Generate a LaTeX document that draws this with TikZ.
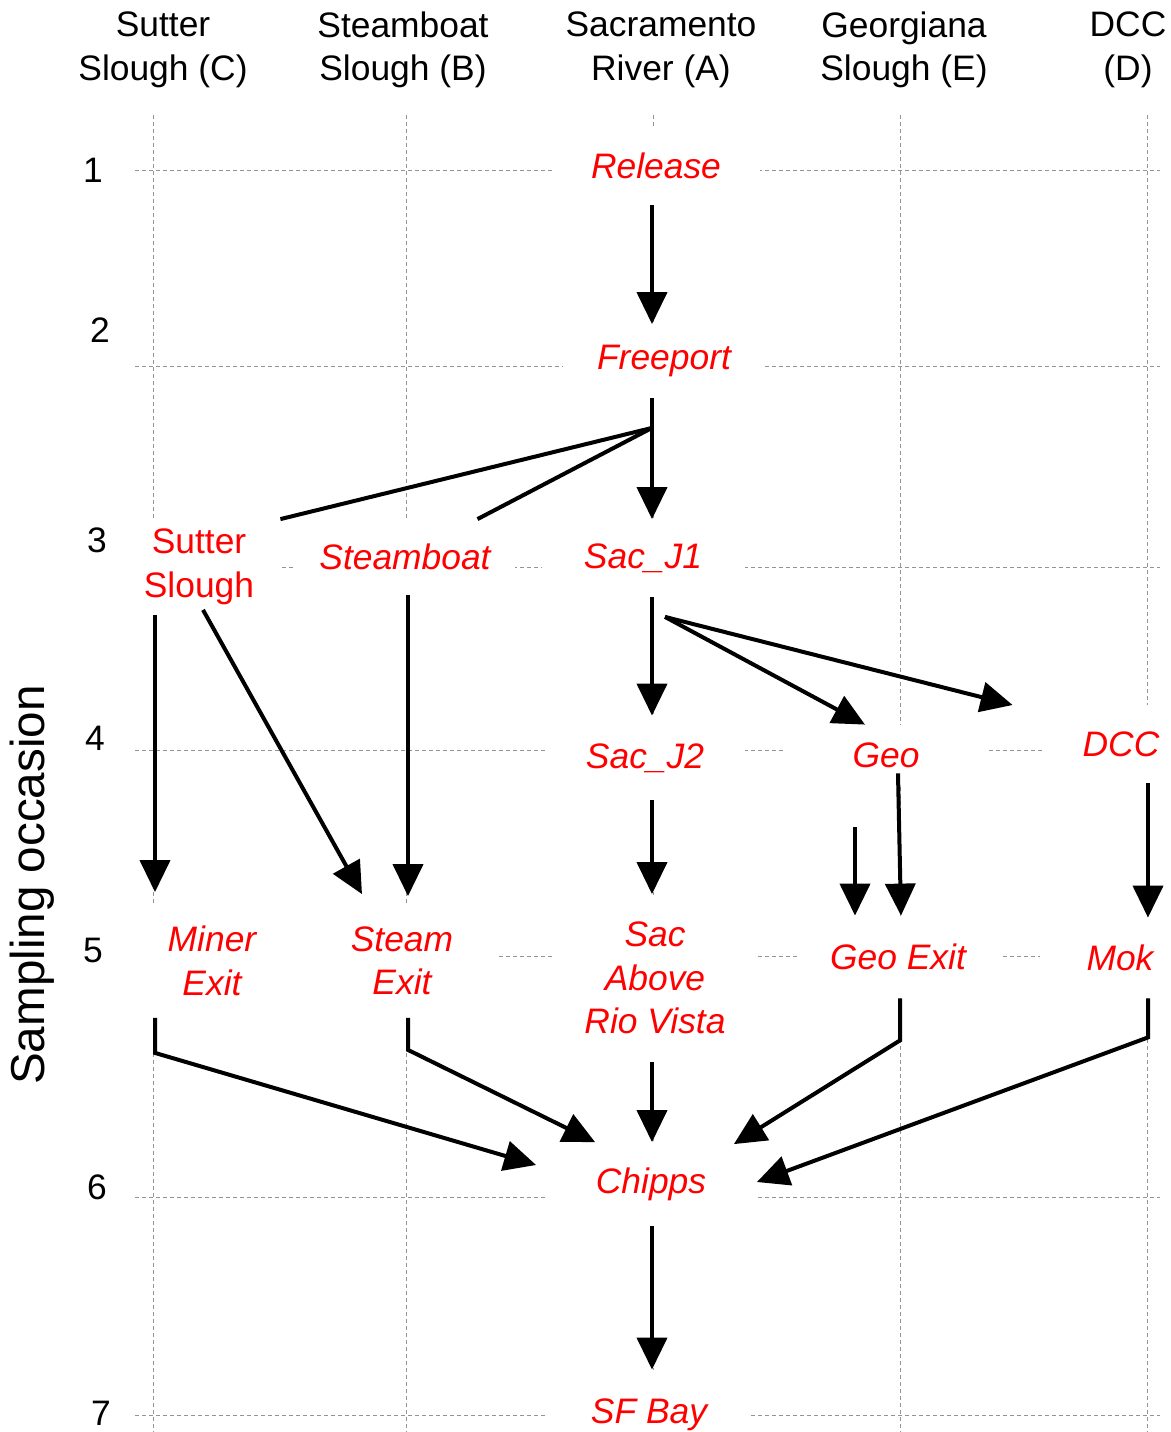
\documentclass[tikz,border=0pt]{standalone}
\usepackage{fontspec}
\setmainfont{Liberation Sans}
\usetikzlibrary{arrows.meta,calc}
\begin{document}
\begin{tikzpicture}[x=0.5pt,y=-0.5pt,
  grid/.style={draw=black!42, line width=0.5pt, dash pattern=on 2pt off 1.5pt},
  lbl/.style={fill=white, inner sep=0pt, text=red, font=\fontsize{17.7}{21.75}\selectfont\itshape, align=center},
  lblup/.style={lbl, font=\fontsize{17.7}{21.75}\selectfont},
  hdr/.style={font=\fontsize{17.7}{21.75}\selectfont, align=center, inner sep=0pt},
  num/.style={font=\fontsize{17.7}{21.75}\selectfont, inner sep=0pt},
  arr/.style={line width=2pt, -{Triangle[length=16pt,width=15pt]}},
  seg/.style={line width=2pt}]
\useasboundingbox (0,0) rectangle (1171,1432);
% grid
\foreach \x in {153,406,653,900,1147} \draw[grid] (\x,115) -- (\x,1432);
\foreach \y in {170,366,567,750,956,1197,1415} \draw[grid] (135,\y) -- (1160,\y);
% headers
\node[hdr] (hC) at (163,50) {Sutter\\Slough (C)};
\node[hdr] (hB) at (403,50) {Steamboat\\Slough (B)};
\node[hdr] (hA) at (661,50) {Sacramento\\River (A)};
\node[hdr] (hE) at (904,50) {Georgiana\\Slough (E)};
\node[hdr] (hD) at (1128,50) {DCC\\(D)};
% row numbers
\node[num] (n1) at (93,170) {1};
\node[num] (n2) at (100,330) {2};
\node[num] (n3) at (97,540) {3};
\node[num] (n4) at (95,738) {4};
\node[num] (n5) at (93,950) {5};
\node[num] (n6) at (97,1187) {6};
\node[num] (n7) at (101,1413) {7};
\node[font=\fontsize{23.8}{28}\selectfont, rotate=90] (so) at (32,885) {Sampling occasion};
% labels
\node[lbl, minimum width=103.5pt, minimum height=38.5pt] (rel) at (656,166) {Release};
\node[lbl, minimum width=101pt, minimum height=36.5pt] (fp) at (664,361) {Freeport};
\node[lblup, minimum width=81pt, minimum height=47.5pt] (ss) at (199,567) {Sutter\\Slough};
\node[lbl, minimum width=110pt, minimum height=37.5pt] (sb) at (405,557) {Steamboat};
\node[lbl, minimum width=101.5pt, minimum height=38.5pt] (j1) at (643,558) {Sac\_J1};
\node[lbl, minimum width=100pt, minimum height=42pt] (j2) at (645,758) {Sac\_J2};
\node[lbl, minimum width=101.5pt, minimum height=30pt] (geo) at (886,755) {Geo};
\node[lbl, minimum width=79pt, minimum height=39pt] (dcc) at (1121,744) {DCC};
\node[lbl, minimum width=95pt, minimum height=56.5pt] (mx) at (212,961) {Miner\\Exit};
\node[lbl, minimum width=95pt, minimum height=56.5pt] (sx) at (402,961) {Steam\\Exit};
\node[lbl, minimum width=103pt, minimum height=83.5pt] (rv) at (655,978) {Sac\\Above\\Rio Vista};
\node[lbl, minimum width=101.5pt, minimum height=41pt] (gx) at (898,957) {Geo Exit};
\node[lbl, minimum width=80pt, minimum height=40pt] (mok) at (1120,958) {Mok};
\node[lbl, minimum width=103.5pt, minimum height=41.5pt] (ch) at (651,1184) {Chipps};
\node[lbl, minimum width=101pt, minimum height=45pt] (sf) at (649,1415) {SF Bay};
% column coordinates
\coordinate (cA) at (652,0);
\coordinate (cB) at (408,0);
\coordinate (cC) at (155,0);
\coordinate (cD) at (1148,0);
% arrows
\draw[arr] (rel.south -| cA) -- (fp.north -| cA);
\draw[arr] (fp.south -| cA) -- (j1.north -| cA);
\coordinate (fork) at ($(fp.south -| cA)+(0,30)$);
\draw[seg] (fork) -- (ss.north east);
\draw[seg] (fork) -- (sb);
\draw[arr] (j1.south -| cA) -- (j2.north -| cA);
\coordinate (jfork) at ($(j1.south)+(22,20)$);
\draw[arr] (jfork) -- ($(geo.north)+(-21,0)$);
\draw[arr] (jfork) -- ($(dcc.west)+(-29,-39)$);
\draw[arr] (ss.south -| cC) -- ($(mx.north -| cC)+(0,-12)$);
\draw[arr] ($(ss.south)+(4,-5)$) -- ($(sx.north)+(-40,-10)$);
\draw[arr] (sb.south -| cB) -- ($(sx.north -| cB)+(0,-8)$);
\draw[arr] (j2.south -| cA) -- (rv.north -| cA);
\draw[arr] ($(geo.south)+(12,-12)$) -- ($(gx.north)+(3,0)$);
\coordinate (free) at (855,827);
\draw[arr] (free) -- (gx.north -| free);
\draw[arr] (dcc.south -| cD) -- (mok.north -| cD);
\draw[arr] (mx.south -| cC) -- ++(0,35) -- ($(ch.west)+(-11,-19)$);
\draw[arr] (sx.south -| cB) -- ++(0,32) -- ($(ch.north west)+(48,0)$);
\draw[arr] (rv.south -| cA) -- (ch.north -| cA);
\draw[arr] ($(gx.south)+(2,0)$) -- ++(0,42) -- ($(ch.north east)+(-21,2)$);
\draw[arr] (mok.south -| cD) -- ++(0,39) -- ($(ch.east)+(2,-2)$);
\draw[arr] (ch.south -| cA) -- (sf.north -| cA);
\end{tikzpicture}
\end{document}
